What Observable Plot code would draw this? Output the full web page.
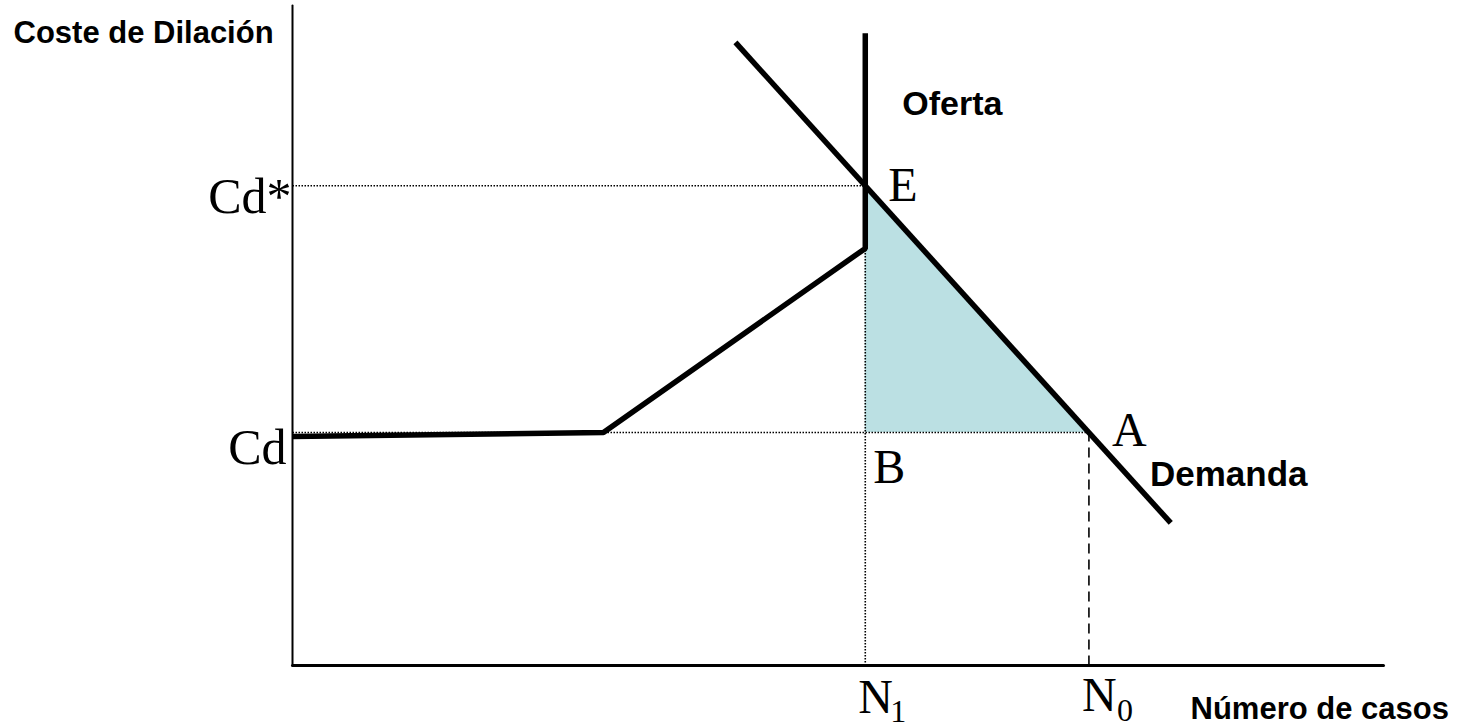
<!DOCTYPE html>
<html>
<head>
<meta charset="utf-8">
<script src="https://cdn.jsdelivr.net/npm/d3@7"></script>
<script src="https://cdn.jsdelivr.net/npm/@observablehq/plot@0.6"></script>
<style>
  html, body { margin: 0; padding: 0; background: #ffffff; }
  #chart svg { display: block; }
</style>
</head>
<body>
<div id="chart"></div>
<script>
// Key values (abstract units: number of cases on x, delay cost on y)
const N1 = 52.5;       // supply capacity
const N0 = 73;         // demand at Cd
const Cd = 35.3;       // base delay cost
const CdStar = 72.7;   // equilibrium delay cost

// Supply curve (Oferta)
const supply = [
  {x: 0, y: 34.7},
  {x: 28.5, y: 35.3},
  {x: N1, y: 63.2},
  {x: N1, y: 95.8}
];

// Demand curve (Demanda)
const demand = [
  {x: 40.6, y: 94.4},
  {x: 80.5, y: 21.6}
];

// Shaded triangle E-B-A (between Cd and the demand curve, from N1 to N0)
const triangle = [
  {x: N1, low: Cd, high: CdStar},
  {x: N0, low: Cd, high: Cd}
];

// Axes
const xAxisLine = [{x: 0, y: 0}, {x: 100, y: 0}];
const yAxisLine = [{x: 0, y: 0}, {x: 0, y: 100}];

// Reference lines
const dottedLines = [
  {x1: 0, y1: CdStar, x2: N1, y2: CdStar},
  {x1: 0, y1: Cd, x2: N0, y2: Cd},
  {x1: N1, y1: 0, x2: N1, y2: 63.2}
];
const dashedLines = [
  {x1: N0, y1: 0, x2: N0, y2: Cd}
];

// Serif point labels
const serifLabels = [
  {x: 0, y: CdStar, text: "Cd*", dx: -1, dy: 27, anchor: "end", size: 50},
  {x: 0, y: Cd, text: "Cd", dx: -6, dy: 31, anchor: "end", size: 50},
  {x: N1, y: CdStar, text: "E", dx: 23, dy: 15, anchor: "start", size: 48},
  {x: N0, y: Cd, text: "A", dx: 23, dy: 13, anchor: "start", size: 48},
  {x: N1, y: Cd, text: "B", dx: 8, dy: 50, anchor: "start", size: 48},
  {x: N1, y: 0, text: "N", dx: -7, dy: 47, anchor: "start", size: 48},
  {x: N0, y: 0, text: "N", dx: -7, dy: 45, anchor: "start", size: 48},
  {x: N1, y: 0, text: "1", dx: 25, dy: 56, anchor: "start", size: 32},
  {x: N0, y: 0, text: "0", dx: 28, dy: 55, anchor: "start", size: 32}
];

// Bold sans labels
const boldLabels = [
  {x: 0, y: 100, text: "Coste de Dilación", dx: -279, dy: 37, anchor: "start", size: 31},
  {x: N1, y: 95.8, text: "Oferta", dx: 37, dy: 82, anchor: "start", size: 34},
  {x: N0, y: Cd, text: "Demanda", dx: 61, dy: 53, anchor: "start", size: 35},
  {x: 100, y: 0, text: "Número de casos", dx: -193, dy: 53, anchor: "start", size: 31}
];

const textMarks = (labels, family, weight) =>
  labels.map(d => Plot.text([d], {
    x: "x", y: "y", text: "text",
    dx: d.dx, dy: d.dy,
    textAnchor: d.anchor,
    lineAnchor: "bottom",
    fontFamily: family,
    fontWeight: weight,
    fontSize: d.size,
    fill: "#000000"
  }));

const chart = Plot.plot({
  width: 1468,
  height: 726,
  marginLeft: 292,
  marginRight: 85,
  marginTop: 5,
  marginBottom: 61,
  style: {background: "#ffffff", overflow: "visible"},
  x: {domain: [0, 100], axis: null},
  y: {domain: [0, 100], axis: null},
  marks: [
    Plot.areaY(triangle, {x: "x", y1: "low", y2: "high", fill: "#bbe0e3", curve: "linear"}),
    Plot.link(dottedLines, {x1: "x1", y1: "y1", x2: "x2", y2: "y2", stroke: "#000000", strokeWidth: 1.6, strokeDasharray: "1.5,1.5"}),
    Plot.link(dashedLines, {x1: "x1", y1: "y1", x2: "x2", y2: "y2", stroke: "#000000", strokeWidth: 1.6, strokeDasharray: "10,6"}),
    Plot.line(xAxisLine, {x: "x", y: "y", stroke: "#000000", strokeWidth: 3}),
    Plot.line(yAxisLine, {x: "x", y: "y", stroke: "#000000", strokeWidth: 2}),
    Plot.line(supply, {x: "x", y: "y", stroke: "#000000", strokeWidth: 5.5, strokeLinejoin: "miter", strokeLinecap: "butt"}),
    Plot.line(demand, {x: "x", y: "y", stroke: "#000000", strokeWidth: 5.5, strokeLinecap: "butt"}),
    ...textMarks(serifLabels, "'Liberation Serif', 'Times New Roman', serif", "normal"),
    ...textMarks(boldLabels, "'Liberation Sans', Arial, sans-serif", "bold")
  ]
});

document.getElementById("chart").appendChild(chart);
</script>
</body>
</html>
